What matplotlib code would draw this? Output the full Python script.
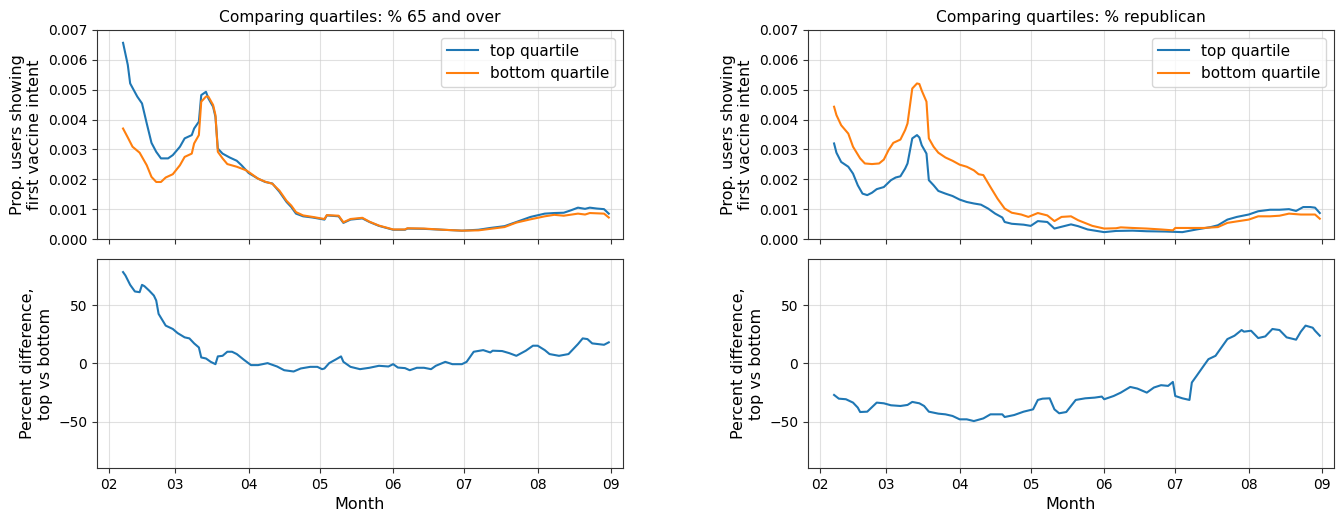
import numpy as np
import pandas as pd
import matplotlib
matplotlib.use("Agg")
import matplotlib.pyplot as plt
import matplotlib.dates as mdates

# ---- data (values in units of 1e-3 for the top panels) ----
# % 65 and over
dates_top_65 = ["02-07", "02-09", "02-10", "02-13", "02-15", "02-17", "02-19", "02-21", "02-23", "02-26",
                "02-28", "03-03", "03-05", "03-08", "03-09", "03-11", "03-12", "03-14", "03-15", "03-17",
                "03-18", "03-19", "03-21", "03-24", "03-27", "03-29", "04-01", "04-05", "04-08", "04-11",
                "04-14", "04-17", "04-19", "04-21", "04-24", "04-28", "05-03", "05-04", "05-09", "05-11",
                "05-14", "05-19", "05-22", "05-26", "06-01", "06-06", "06-07", "06-14", "06-22", "06-30",
                "07-07", "07-12", "07-18", "07-23", "07-29", "08-04", "08-08", "08-12", "08-15", "08-18",
                "08-21", "08-23", "08-26", "08-29", "08-31"]
top_65 = [6.57, 5.83, 5.21, 4.77, 4.54, 3.87, 3.22, 2.92, 2.70, 2.70,
          2.81, 3.09, 3.37, 3.48, 3.70, 3.93, 4.82, 4.93, 4.71, 4.43,
          4.09, 3.03, 2.86, 2.73, 2.62, 2.47, 2.21, 2.02, 1.91, 1.86,
          1.58, 1.24, 1.07, 0.85, 0.76, 0.72, 0.65, 0.79, 0.76, 0.54,
          0.65, 0.69, 0.57, 0.44, 0.31, 0.31, 0.35, 0.34, 0.31, 0.28,
          0.31, 0.37, 0.43, 0.57, 0.74, 0.85, 0.87, 0.88, 0.96, 1.05,
          1.01, 1.05, 1.02, 1.00, 0.85]

dates_bot_65 = ["02-07", "02-09", "02-11", "02-14", "02-17", "02-19", "02-21", "02-23", "02-25", "02-28",
                "03-03", "03-05", "03-08", "03-09", "03-11", "03-12", "03-14", "03-15", "03-17", "03-18",
                "03-19", "03-21", "03-23", "03-27", "03-31", "04-02", "04-05", "04-08", "04-11", "04-14",
                "04-17", "04-19", "04-21", "04-24", "04-28", "05-03", "05-04", "05-09", "05-11", "05-14",
                "05-19", "05-22", "05-26", "06-01", "06-06", "06-07", "06-14", "06-22", "06-30", "07-07",
                "07-12", "07-18", "07-23", "07-29", "08-04", "08-08", "08-12", "08-18", "08-21", "08-23",
                "08-29", "08-31"]
bot_65 = [3.70, 3.40, 3.09, 2.89, 2.47, 2.08, 1.91, 1.91, 2.06, 2.17,
          2.47, 2.75, 2.86, 3.20, 3.48, 4.60, 4.77, 4.77, 4.49, 4.15,
          2.92, 2.70, 2.51, 2.42, 2.30, 2.19, 2.02, 1.92, 1.85, 1.62,
          1.28, 1.12, 0.90, 0.79, 0.74, 0.67, 0.80, 0.78, 0.56, 0.67,
          0.71, 0.58, 0.45, 0.32, 0.32, 0.36, 0.35, 0.31, 0.28, 0.29,
          0.34, 0.40, 0.55, 0.66, 0.76, 0.81, 0.78, 0.85, 0.82, 0.87,
          0.85, 0.72]

dates_diff_65 = ["02-07", "02-08", "02-10", "02-12", "02-14", "02-15", "02-16", "02-18", "02-20", "02-21",
                 "02-22", "02-25", "02-28", "03-02", "03-05", "03-07", "03-09", "03-11", "03-12", "03-14",
                 "03-16", "03-18", "03-19", "03-21", "03-23", "03-25", "03-27", "03-30", "04-02", "04-05",
                 "04-09", "04-13", "04-16", "04-20", "04-23", "04-27", "04-30", "05-02", "05-03", "05-05",
                 "05-08", "05-10", "05-11", "05-14", "05-18", "05-22", "05-26", "05-30", "06-01", "06-03",
                 "06-06", "06-08", "06-11", "06-14", "06-17", "06-19", "06-23", "06-26", "06-30", "07-02",
                 "07-05", "07-09", "07-12", "07-13", "07-17", "07-20", "07-23", "07-27", "07-30", "08-01",
                 "08-04", "08-06", "08-10", "08-14", "08-16", "08-18", "08-20", "08-22", "08-24", "08-29",
                 "08-31"]
diff_65 = [78.7, 75.8, 67.7, 62.0, 61.4, 67.7, 66.6, 62.8, 58.5, 54.2,
           42.7, 32.6, 29.7, 26.2, 22.5, 21.6, 17.3, 13.8, 5.2, 4.3,
           1.4, -0.6, 6.1, 6.6, 10.1, 10.1, 8.1, 3.2, -1.4, -1.4,
           0.3, -2.6, -5.8, -6.9, -4.3, -2.9, -2.9, -4.9, -4.3, 0.3,
           3.7, 6.1, 1.4, -2.9, -4.9, -3.7, -2.0, -2.6, -0.6, -3.5,
           -4.0, -5.8, -3.7, -3.7, -4.9, -2.0, 1.4, -0.6, -0.6, 1.4,
           10.1, 11.5, 9.5, 11.0, 10.7, 8.9, 6.6, 11.0, 15.3, 15.3,
           11.5, 8.1, 6.6, 8.1, 12.4, 16.7, 21.6, 21.0, 17.3, 16.1,
           18.2]

# % republican
dates_top_rep = ["02-07", "02-08", "02-10", "02-13", "02-15", "02-17", "02-19", "02-21", "02-23", "02-25",
                 "02-28", "03-03", "03-05", "03-07", "03-09", "03-10", "03-12", "03-14", "03-15", "03-16",
                 "03-18", "03-19", "03-21", "03-23", "03-26", "03-29", "04-01", "04-04", "04-07", "04-10",
                 "04-13", "04-16", "04-19", "04-20", "04-23", "04-28", "05-01", "05-04", "05-08", "05-11",
                 "05-15", "05-18", "05-21", "05-25", "06-01", "06-06", "06-13", "06-19", "06-27", "07-04",
                 "07-10", "07-16", "07-19", "07-23", "07-27", "08-01", "08-05", "08-10", "08-14", "08-18",
                 "08-21", "08-24", "08-27", "08-29", "08-31"]
top_rep = [3.20, 2.89, 2.58, 2.42, 2.19, 1.80, 1.52, 1.47, 1.55, 1.67,
           1.74, 1.97, 2.06, 2.10, 2.36, 2.53, 3.37, 3.48, 3.40, 3.14,
           2.86, 1.97, 1.80, 1.61, 1.52, 1.44, 1.32, 1.24, 1.19, 1.15,
           1.02, 0.85, 0.72, 0.57, 0.51, 0.48, 0.44, 0.60, 0.57, 0.35,
           0.43, 0.49, 0.43, 0.32, 0.23, 0.27, 0.28, 0.26, 0.25, 0.23,
           0.32, 0.40, 0.46, 0.65, 0.74, 0.82, 0.93, 0.98, 0.98, 1.00,
           0.94, 1.07, 1.07, 1.05, 0.87]

dates_bot_rep = ["02-07", "02-08", "02-10", "02-13", "02-15", "02-18", "02-20", "02-23", "02-26", "02-28",
                 "03-02", "03-04", "03-07", "03-09", "03-10", "03-12", "03-14", "03-15", "03-16", "03-18",
                 "03-19", "03-21", "03-23", "03-26", "03-29", "04-01", "04-04", "04-07", "04-09", "04-11",
                 "04-14", "04-17", "04-18", "04-20", "04-23", "04-27", "04-30", "05-04", "05-08", "05-11",
                 "05-14", "05-18", "05-21", "05-27", "06-01", "06-06", "06-08", "06-13", "06-19", "06-25",
                 "06-30", "07-01", "07-07", "07-13", "07-19", "07-23", "07-27", "08-01", "08-05", "08-10",
                 "08-14", "08-18", "08-23", "08-29", "08-31"]
bot_rep = [4.43, 4.15, 3.81, 3.53, 3.09, 2.70, 2.53, 2.51, 2.53, 2.66,
           2.98, 3.22, 3.33, 3.65, 3.87, 5.04, 5.21, 5.19, 4.97, 4.60,
           3.37, 3.09, 2.89, 2.73, 2.62, 2.49, 2.42, 2.30, 2.17, 2.14,
           1.74, 1.35, 1.24, 1.02, 0.88, 0.82, 0.74, 0.87, 0.79, 0.60,
           0.74, 0.76, 0.63, 0.44, 0.35, 0.36, 0.39, 0.37, 0.35, 0.32,
           0.29, 0.37, 0.37, 0.37, 0.40, 0.54, 0.59, 0.65, 0.76, 0.76,
           0.78, 0.85, 0.82, 0.82, 0.68]

dates_diff_rep = ["02-07", "02-09", "02-12", "02-15", "02-17", "02-18", "02-21", "02-25", "02-28", "03-03",
                  "03-07", "03-10", "03-12", "03-15", "03-17", "03-19", "03-23", "03-26", "03-29", "04-01",
                  "04-04", "04-07", "04-11", "04-14", "04-19", "04-20", "04-24", "04-28", "05-02", "05-04",
                  "05-06", "05-09", "05-11", "05-13", "05-16", "05-20", "05-24", "05-28", "05-31", "06-01",
                  "06-05", "06-08", "06-12", "06-15", "06-19", "06-22", "06-25", "06-28", "06-30", "07-01",
                  "07-04", "07-07", "07-08", "07-10", "07-13", "07-15", "07-18", "07-20", "07-23", "07-26",
                  "07-29", "07-30", "08-02", "08-05", "08-08", "08-11", "08-14", "08-17", "08-21", "08-23",
                  "08-25", "08-28", "08-29", "08-31"]
diff_rep = [-27.1, -30.3, -30.8, -33.7, -38.0, -41.8, -41.5, -33.7, -34.3, -36.0,
            -36.6, -35.7, -33.1, -34.3, -36.6, -41.5, -43.2, -43.8, -45.2, -48.1,
            -48.1, -49.6, -47.3, -43.8, -43.8, -46.1, -44.4, -41.5, -39.5, -31.4,
            -30.3, -30.0, -39.5, -42.9, -41.8, -31.4, -30.0, -29.4, -28.5, -30.8,
            -28.0, -25.1, -20.2, -21.6, -25.1, -20.7, -18.7, -19.3, -15.9, -28.0,
            -30.0, -31.4, -16.4, -10.7, -2.0, 3.7, 6.6, 12.4, 21.0, 23.9,
            28.8, 27.4, 28.2, 21.9, 23.3, 29.7, 28.8, 22.5, 20.5, 27.4,
            32.6, 30.8, 28.2, 23.9]

titles = ["Comparing quartiles: % 65 and over", "Comparing quartiles: % republican"]


def to_dates(md):
    return pd.to_datetime(["2021-" + s for s in md])


plt.rcParams['font.family'] = 'DejaVu Sans'
fig = plt.figure(figsize=(13.36, 5.17), dpi=100)

spine_col = '#333333'
lefts = [0.0726, 0.6048]
w = 0.3937
rows = [(0.5377, 0.4043), (0.0948, 0.4043)]

panels = [
    (dates_top_65, top_65, dates_bot_65, bot_65, dates_diff_65, diff_65),
    (dates_top_rep, top_rep, dates_bot_rep, bot_rep, dates_diff_rep, diff_rep),
]

for col, (dt, yt, db, yb, dd, yd) in enumerate(panels):
    ax1 = fig.add_axes([lefts[col], rows[0][0], w, rows[0][1]])
    ax2 = fig.add_axes([lefts[col], rows[1][0], w, rows[1][1]], sharex=ax1)

    ax1.plot(to_dates(dt), np.array(yt) / 1000, color='#1f77b4', lw=1.5, label='top quartile')
    ax1.plot(to_dates(db), np.array(yb) / 1000, color='#ff7f0e', lw=1.5, label='bottom quartile')
    ax2.plot(to_dates(dd), yd, color='#1f77b4', lw=1.5)

    ax1.set_ylim(0, 0.007)
    ax1.set_yticks(np.arange(0, 0.0071, 0.001))
    ax1.yaxis.set_major_formatter(matplotlib.ticker.FormatStrFormatter('%.3f'))
    ax1.set_title(titles[col], fontsize=11.2)
    ax1.set_ylabel('Prop. users showing\nfirst vaccine intent', fontsize=11.5)
    ax1.legend(loc='upper right', fontsize=11)
    ax1.tick_params(labelbottom=False)

    ax2.set_ylim(-90, 90)
    ax2.set_yticks([-50, 0, 50])
    ax2.set_ylabel('Percent difference,\ntop vs bottom', fontsize=11.5)
    ax2.set_xlabel('Month', fontsize=11.5)
    ax2.set_xlim(pd.Timestamp('2021-01-27'), pd.Timestamp('2021-09-06'))
    ax2.xaxis.set_major_locator(mdates.MonthLocator())
    ax2.xaxis.set_major_formatter(mdates.DateFormatter('%m'))

    for ax in (ax1, ax2):
        ax.grid(True, color='#cccccc', alpha=0.6, lw=0.8)
        ax.tick_params(labelsize=10, color=spine_col)
        for s in ax.spines.values():
            s.set_color(spine_col)

fig.savefig('out.png', dpi=100)
